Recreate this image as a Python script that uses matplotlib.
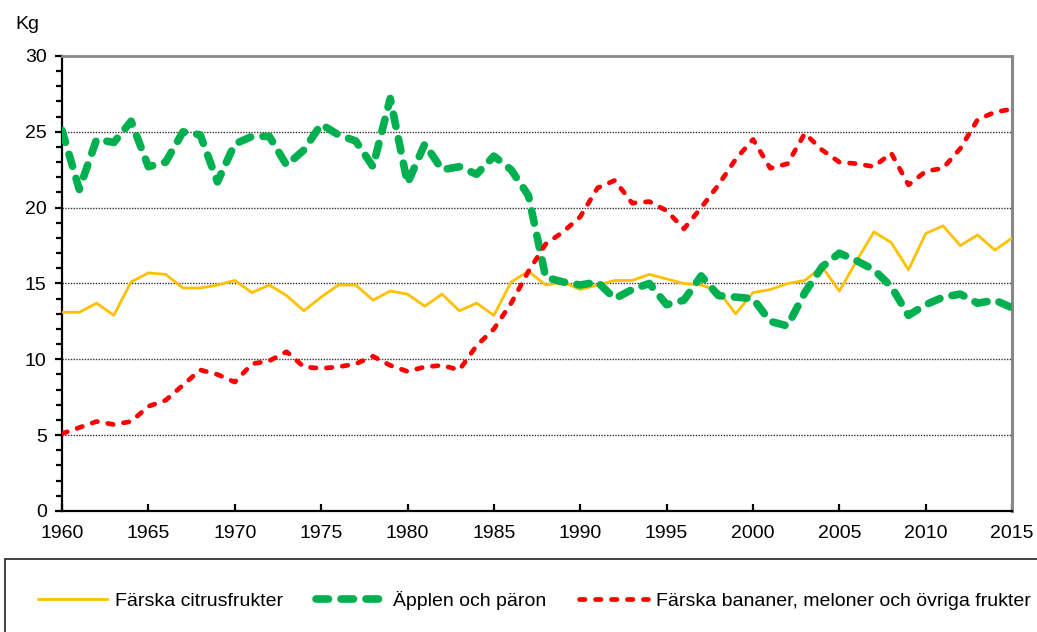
import matplotlib
matplotlib.use("Agg")
from matplotlib import pyplot as plt
from matplotlib.patches import Rectangle
from matplotlib.ticker import MultipleLocator

years = list(range(1960, 2016))

# Färska citrusfrukter (kg per person)
citrus = [13.1, 13.1, 13.7, 12.9, 15.1, 15.7, 15.6, 14.7, 14.7, 14.9,
          15.2, 14.4, 14.9, 14.2, 13.2, 14.1, 14.9, 14.9, 13.9, 14.5,
          14.3, 13.5, 14.3, 13.2, 13.7, 12.9, 15.1, 15.8, 14.9, 15.1,
          14.6, 14.9, 15.2, 15.2, 15.6, 15.3, 15.0, 14.9, 14.5, 13.0,
          14.4, 14.6, 15.0, 15.2, 16.1, 14.5, 16.5, 18.4, 17.7, 15.9,
          18.3, 18.8, 17.5, 18.2, 17.2, 18.0]

# Äpplen och päron
apples = [25.1, 21.2, 24.5, 24.3, 25.7, 22.7, 23.0, 25.0, 24.8, 21.7,
          24.2, 24.7, 24.7, 22.8, 23.8, 25.5, 24.8, 24.4, 22.7, 27.2,
          21.6, 24.2, 22.5, 22.7, 22.2, 23.4, 22.5, 20.8, 15.4, 15.1,
          14.9, 15.1, 14.0, 14.6, 15.0, 13.6, 13.9, 15.5, 14.2, 14.1,
          14.0, 12.5, 12.2, 14.4, 16.1, 17.0, 16.5, 15.9, 14.8, 12.9,
          13.6, 14.1, 14.3, 13.7, 13.9, 13.4]

# Färska bananer, meloner och övriga frukter
bananas = [5.1, 5.5, 5.9, 5.7, 5.9, 6.9, 7.3, 8.3, 9.3, 9.0,
           8.5, 9.7, 9.9, 10.5, 9.5, 9.4, 9.5, 9.7, 10.2, 9.6,
           9.2, 9.5, 9.6, 9.3, 10.9, 12.0, 13.7, 15.8, 17.6, 18.4,
           19.4, 21.3, 21.8, 20.3, 20.4, 19.8, 18.6, 20.0, 21.5, 23.2,
           24.5, 22.6, 22.9, 24.9, 23.8, 23.0, 22.9, 22.7, 23.6, 21.5,
           22.4, 22.6, 23.9, 25.8, 26.3, 26.5]

labels = ["Färska citrusfrukter", "Äpplen och päron",
          "Färska bananer, meloner och övriga frukter"]


def main():
    plt.rcParams['font.family'] = ['Liberation Sans', 'DejaVu Sans']
    plt.rcParams['font.size'] = 14
    plt.rcParams['lines.scale_dashes'] = False

    fig = plt.figure(figsize=(10.37, 6.32), dpi=100)
    ax = fig.add_axes([0.0598, 0.1915, 0.9162, 0.7199])

    ax.plot(years, citrus, color='#FFC000', lw=2.0, label=labels[0], zorder=3)
    ax.plot(years, apples, color='#00B050', lw=5.5, label=labels[1],
            dashes=(9, 9), dash_capstyle='round', zorder=4)
    ax.plot(years, bananas, color='#FF0000', lw=3.4, label=labels[2],
            dashes=(4, 7.5), dash_capstyle='round', zorder=5)

    ax.set_xlim(1960, 2015)
    ax.set_ylim(0, 30)
    ax.xaxis.set_major_locator(MultipleLocator(5))
    ax.yaxis.set_major_locator(MultipleLocator(5))
    ax.yaxis.set_minor_locator(MultipleLocator(1))

    # streckade rutnätslinjer
    for v in [5, 10, 15, 20, 25]:
        ax.axhline(v, color='#333333', lw=1.0, ls=(0, (1, 1)), zorder=1)

    ax.spines['left'].set_linewidth(1.6)
    ax.spines['bottom'].set_linewidth(1.6)
    ax.spines['top'].set_color('#888888')
    ax.spines['top'].set_linewidth(2.0)
    ax.spines['right'].set_color('#888888')
    ax.spines['right'].set_linewidth(2.2)

    ax.tick_params(axis='y', which='major', direction='out', length=5, width=1.6, pad=6)
    ax.tick_params(axis='y', which='minor', direction='out', length=4, width=1.6)
    ax.tick_params(axis='x', which='major', direction='in', length=5, width=1.6, pad=10)

    fig.text(0.015, 0.962, "Kg", fontsize=14, va='center')

    # legendram som går utanför bilden
    fig.patches.append(Rectangle((5 / 1037, -0.05), 1.1, 0.05 + (632 - 559) / 632,
                                 transform=fig.transFigure, fill=False,
                                 edgecolor='#222222', lw=1.2))
    fig.legend(loc='center left', bbox_to_anchor=(0.037, 1 - 600 / 632), ncol=3,
               frameon=False, handlelength=3.55, handletextpad=0.4,
               columnspacing=1.7, fontsize=14, borderaxespad=0, borderpad=0)

    fig.savefig("out.png", dpi=100)


if __name__ == "__main__":
    main()
